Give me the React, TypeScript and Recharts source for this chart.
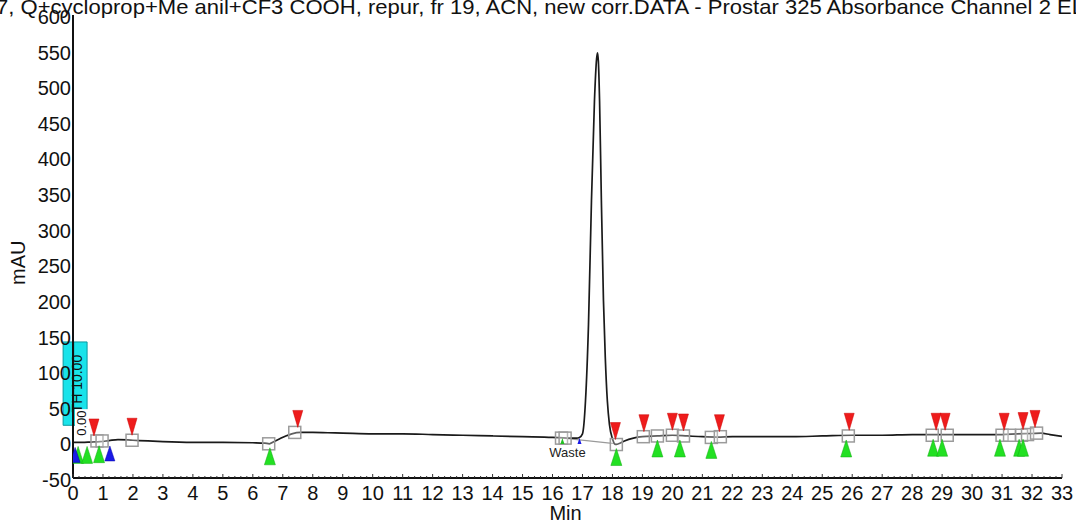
import React from "react";
import {
  ComposedChart,
  Line,
  Scatter,
  XAxis,
  YAxis,
  ReferenceArea,
  ReferenceDot,
} from "recharts";

// chromatogram trace (min, mAU)
const TIME = [
  0, 0.3, 0.6, 0.9, 1.2, 1.5, 2, 2.5, 3, 4, 5, 6, 6.4, 6.55, 6.7, 6.9, 7.1, 7.3, 7.6, 8, 8.5, 9, 10, 11, 12, 13, 14, 15, 16,
  16.5, 16.8, 16.9, 17.0, 17.1, 17.2, 17.3, 17.4, 17.47, 17.5, 17.53, 17.57, 17.63, 17.7, 17.76, 17.83, 17.9, 18.0, 18.1,
  18.2, 18.4, 18.7, 19.0, 19.5, 20.0, 20.5, 21, 21.5, 22, 23, 24, 25, 26, 27, 28, 29, 30, 31, 31.5, 32, 32.3, 32.6, 33,
];
const SIGNAL = [
  0, 0, 0.5, 1, 2.5, 4, 3, 2, 1, 0, 0, -0.5, -1, -2, 1, 5, 9, 12, 14, 14, 13.5, 13, 12, 12, 11, 10, 9, 8, 7,
  6, 6, 7, 12, 58, 165, 340, 480, 538, 547, 535, 480, 340, 199, 120, 58, 25, 5, -3,
  -2, 2, 6, 8, 9, 10, 9, 8, 7.5, 8, 8, 8, 9, 10, 10, 11, 11, 11, 11, 12, 12.5, 13, 11, 8.5,
];

// integration baseline under the main peak
const BASE_T = [16.35, 18.15];
const BASE_V = [6, -2];

// event markers: [min, mAU]
const SQUARES: [number, number][] = [
  [0.8, 2], [0.97, 2], [1.97, 3], [6.53, -2], [7.4, 14], [16.3, 6], [16.42, 6], [18.13, -3],
  [19.03, 8], [19.5, 9], [20.0, 10], [20.37, 9], [21.3, 7], [21.6, 8], [25.87, 9], [28.67, 10],
  [29.17, 10], [31.0, 10], [31.25, 10], [31.65, 10], [31.85, 11], [32.15, 13],
];
const PEAK_STARTS: [number, number][] = [
  [0.17, 0], [0.47, 0], [0.87, 1], [6.57, -2], [18.13, -3], [19.5, 9], [20.25, 9], [21.3, 7],
  [25.8, 9], [28.7, 10], [29.0, 10], [30.93, 10], [31.57, 10], [31.7, 10],
];
const PEAK_ENDS: [number, number][] = [
  [0.7, 2], [1.97, 3], [7.5, 14], [18.1, -3], [19.05, 8], [20.0, 10], [20.37, 9], [21.57, 8],
  [25.9, 10], [28.8, 10], [29.1, 10], [31.07, 10], [31.7, 11], [32.1, 14],
];
const BLUE_EVENTS: [number, number][] = [[0.07, 0], [1.23, 2]];
const VALVE_EVENTS: [number, number][] = [[16.33, 6]];
const VALVE_END: [number, number][] = [[16.9, 6]];

const X_MINOR = Array.from({ length: 166 }, (_, i) => Math.round(i * 2) / 10);
const Y_TICKS = [-50, 0, 50, 100, 150, 200, 250, 300, 350, 400, 450, 500, 550, 600];

const TITLE =
  "7, Q+cycloprop+Me anil+CF3 COOH, repur, fr 19, ACN, new corr.DATA - Prostar 325 Absorbance Channel 2 EL";

const FONT = "'Liberation Sans', Arial, sans-serif";

const trace = TIME.map((t, i) => ({ t, v: SIGNAL[i] }));
const baseline = BASE_T.map((t, i) => ({ t, v: BASE_V[i] }));
const pts = (a: [number, number][]) => a.map(([t, v]) => ({ t, v }));

const Square = (p: any) => (
  <rect x={p.cx - 6} y={p.cy - 6} width={12} height={12} fill="rgba(255,255,255,0.3)" stroke="#9b9b9b" strokeWidth={1.5} />
);
const RedDown = (p: any) => (
  <polygon points={`${p.cx - 5},${p.cy - 22} ${p.cx + 5},${p.cy - 22} ${p.cx},${p.cy - 5}`} fill="#ee1c1c" stroke="#c00" strokeWidth={0.5} />
);
const GreenUp = (p: any) => (
  <polygon points={`${p.cx},${p.cy + 4} ${p.cx - 5.5},${p.cy + 21} ${p.cx + 5.5},${p.cy + 21}`} fill="#22e022" stroke="#1a1" strokeWidth={0.5} />
);
const BlueUp = (p: any) => (
  <polygon points={`${p.cx},${p.cy + 5} ${p.cx - 5},${p.cy + 20} ${p.cx + 5},${p.cy + 20}`} fill="#1a1ae6" stroke="#00a" strokeWidth={0.5} />
);
const SmallGreen = (p: any) => (
  <polygon points={`${p.cx},${p.cy} ${p.cx - 2},${p.cy + 6} ${p.cx + 2},${p.cy + 6}`} fill="#22c022" />
);
const SmallBlue = (p: any) => (
  <polygon points={`${p.cx},${p.cy} ${p.cx - 2},${p.cy + 6} ${p.cx + 2},${p.cy + 6}`} fill="#1a1ae6" />
);

const XTick = (p: any) => {
  const v = p.payload.value;
  const major = Math.abs(v - Math.round(v)) < 1e-6;
  return (
    <g>
      <line x1={p.x} x2={p.x} y1={478} y2={major ? 474 : 476} stroke="#333" strokeWidth={1} />
      {major && (
        <text x={p.x} y={500} textAnchor="middle" fontSize={20} fontFamily={FONT} fill="#111">
          {Math.round(v)}
        </text>
      )}
    </g>
  );
};

const YTick = (p: any) => (
  <text x={71} y={p.y + 9} textAnchor="end" fontSize={20} fontFamily={FONT} fill="#111">
    {p.payload.value}
  </text>
);

const YTitle = (lp: any) => {
  const vb = lp.viewBox;
  const cx = vb.x + 18;
  const cy = vb.y + vb.height * 0.535;
  return (
    <text x={cx} y={cy} transform={`rotate(-90 ${cx} ${cy})`} textAnchor="middle" dominantBaseline="central" fontSize={20} fontFamily={FONT} fill="#111">
      mAU
    </text>
  );
};

const XTitle = (lp: any) => {
  const vb = lp.viewBox;
  return (
    <text x={vb.x + vb.width * 0.498} y={vb.y + 42} textAnchor="middle" fontSize={20} fontFamily={FONT} fill="#111">
      Min
    </text>
  );
};

export default function App() {
  return (
    <div style={{ position: "fixed", left: 0, top: 0, width: 1076, height: 525, background: "#fff" }}>
      <ComposedChart width={1076} height={525} margin={{ top: 15, right: 14, bottom: 0, left: 0 }}>
        <XAxis
          dataKey="t"
          type="number"
          domain={[0, 33]}
          ticks={X_MINOR}
          interval={0}
          tick={<XTick />}
          tickLine={false}
          axisLine={{ stroke: "#111", strokeWidth: 2 }}
          height={47}
          allowDataOverflow
          label={<XTitle />}
        />
        <XAxis xAxisId="top" orientation="top" type="number" domain={[0, 33]} tick={false} tickLine={false} height={0} axisLine={{ stroke: "#555", strokeWidth: 1.5 }} />
        <YAxis
          dataKey="v"
          type="number"
          domain={[-50, 600]}
          ticks={Y_TICKS}
          interval={0}
          tick={<YTick />}
          tickLine={false}
          axisLine={{ stroke: "#111", strokeWidth: 2 }}
          width={73}
          allowDataOverflow
          label={<YTitle />}
        />
        <YAxis yAxisId="right" orientation="right" type="number" domain={[-50, 600]} tick={false} tickLine={false} width={0} axisLine={{ stroke: "#888", strokeWidth: 1.5 }} />

        <ReferenceArea
          x1={-0.33}
          x2={0.47}
          y1={24}
          y2={141}
          ifOverflow="visible"
          fill="#19e3ea"
          fillOpacity={1}
          stroke="#0a9aa0"
          strokeWidth={1}
          label={(lp: any) => {
            const vb = lp.viewBox;
            const cx = vb.x + vb.width / 2 + 2;
            const cy = vb.y + vb.height / 2;
            return (
              <g>
                <line x1={vb.x + 10} x2={vb.x + 10} y1={vb.y} y2={vb.y + vb.height} stroke="#111" strokeWidth={2} />
                <text x={cx} y={cy} transform={`rotate(-90 ${cx} ${cy})`} textAnchor="middle" dominantBaseline="central" fontSize={14} fontFamily={FONT} fill="#111">
                  TH 10.00
                </text>
              </g>
            );
          }}
        />
        <ReferenceDot
          x={0.3}
          y={27}
          r={0}
          ifOverflow="visible"
          label={(lp: any) => {
            const vb = lp.viewBox;
            const cx = vb.x;
            const cy = vb.y;
            return (
              <g transform={`rotate(-90 ${cx} ${cy})`}>
                <rect x={cx - 14} y={cy - 7} width={28} height={14} fill="#fff" />
                <text x={cx} y={cy} textAnchor="middle" dominantBaseline="central" fontSize={13} fontFamily={FONT} fill="#111">
                  0.00
                </text>
              </g>
            );
          }}
        />
        <ReferenceDot
          x={16.5}
          y={-14}
          r={0}
          label={{ value: "Waste", position: "center", fontSize: 13, fontFamily: FONT, fill: "#222" }}
        />

        <Line data={baseline} dataKey="v" type="linear" stroke="#9a9a9a" strokeWidth={1.2} dot={false} isAnimationActive={false} />
        <Line data={trace} dataKey="v" type="monotone" stroke="#1a1a1a" strokeWidth={1.7} dot={false} isAnimationActive={false} />

        <Scatter data={pts(SQUARES)} dataKey="v" shape={Square} isAnimationActive={false} />
        <Scatter data={pts(VALVE_EVENTS)} dataKey="v" shape={SmallGreen} isAnimationActive={false} />
        <Scatter data={pts(VALVE_END)} dataKey="v" shape={SmallBlue} isAnimationActive={false} />
        <Scatter data={pts(PEAK_ENDS)} dataKey="v" shape={RedDown} isAnimationActive={false} />
        <Scatter data={pts(PEAK_STARTS)} dataKey="v" shape={GreenUp} isAnimationActive={false} />
        <Scatter data={pts(BLUE_EVENTS)} dataKey="v" shape={BlueUp} isAnimationActive={false} />
      </ComposedChart>
      <svg width={1076} height={20} style={{ position: "absolute", left: 0, top: 0, pointerEvents: "none" }}>
        <text x={-4} y={14} fontSize={21} fontFamily={FONT} fill="#111" textLength={1088} lengthAdjust="spacingAndGlyphs">
          {TITLE}
        </text>
      </svg>
    </div>
  );
}
